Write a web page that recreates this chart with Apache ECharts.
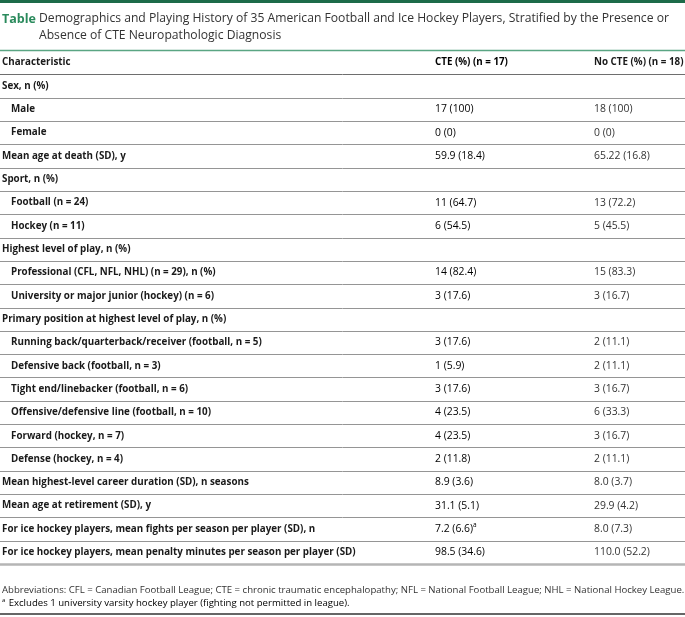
<!DOCTYPE html>
<html><head><meta charset="utf-8">
<script src="https://cdn.jsdelivr.net/npm/echarts@6/dist/echarts.min.js"></script>
<style>html,body{margin:0;padding:0;background:#fff}#c{width:685px;height:617px}</style>
</head><body><div id="c"></div>
<script>
const titleLabel = "Table";
const titleLines = ["Demographics and Playing History of 35 American Football and Ice Hockey Players, Stratified by the Presence or", "Absence of CTE Neuropathologic Diagnosis"];
const rows = ["Characteristic","Sex, n (%)","Male","Female","Mean age at death (SD), y","Sport, n (%)","Football (n = 24)","Hockey (n = 11)","Highest level of play, n (%)","Professional (CFL, NFL, NHL) (n = 29), n (%)","University or major junior (hockey) (n = 6)","Primary position at highest level of play, n (%)","Running back/quarterback/receiver (football, n = 5)","Defensive back (football, n = 3)","Tight end/linebacker (football, n = 6)","Offensive/defensive line (football, n = 10)","Forward (hockey, n = 7)","Defense (hockey, n = 4)","Mean highest-level career duration (SD), n seasons","Mean age at retirement (SD), y","For ice hockey players, mean fights per season per player (SD), n","For ice hockey players, mean penalty minutes per season per player (SD)"];
const indent = [0,0,1,1,0,0,1,1,0,1,1,0,1,1,1,1,1,1,0,0,0,0];
const cte = ["CTE (%) (n = 17)","","17 (100)","0 (0)","59.9 (18.4)","","11 (64.7)","6 (54.5)","","14 (82.4)","3 (17.6)","","3 (17.6)","1 (5.9)","3 (17.6)","4 (23.5)","4 (23.5)","2 (11.8)","8.9 (3.6)","31.1 (5.1)","7.2 (6.6)","98.5 (34.6)"];
const cteMark = ["","","","","","","","","","","","","","","","","","","","","a",""];
const noCte = ["No CTE (%) (n = 18)","","18 (100)","0 (0)","65.22 (16.8)","","13 (72.2)","5 (45.5)","","15 (83.3)","3 (16.7)","","2 (11.1)","2 (11.1)","3 (16.7)","6 (33.3)","3 (16.7)","2 (11.1)","8.0 (3.7)","29.9 (4.2)","8.0 (7.3)","110.0 (52.2)"];
const footnotes = ["Abbreviations: CFL = Canadian Football League; CTE = chronic traumatic encephalopathy; NFL = National Football League; NHL = National Hockey League.", "Excludes 1 university varsity hockey player (fighting not permitted in league)."];
const footMark = "a";

const FONT = '"Open Sans", sans-serif';
const chart = echarts.init(document.getElementById('c'), null, {renderer:'canvas'});
const colX = [2, 435, 594];

function renderItem(params, api) {
  const i = api.value(0);
  const c = api.coord([0, i]);
  const h = api.size([0, 1])[1];
  const cy = c[1];
  const bottom = Math.round(cy + h / 2);
  const isHeader = i === 0;
  const last = i === rows.length - 1;
  const children = [];
  children.push({type:'text', style:{x: colX[0] + (indent[i] ? 9 : 0), y: cy, text: rows[i], fill:'#1a1a1a', font:'bold 9.8px ' + FONT, textVerticalAlign:'middle'}});
  const cteText = cteMark[i] ? '{v|' + cte[i] + '}{s|' + cteMark[i] + '}' : '{v|' + cte[i] + '}';
  const valFont = isHeader ? 'bold' : 'normal';
  const valSize = isHeader ? 9.8 : 10.4;
  children.push({type:'text', style:{x: colX[1], y: cy, text: cteText, textVerticalAlign:'middle',
    rich:{v:{fontFamily:FONT, fontSize:valSize, fontWeight:valFont, color: isHeader ? '#1a1a1a' : '#333'}, s:{fontFamily:FONT, fontSize:6.5, color:'#333', verticalAlign:'top', padding:[0,0,7,0]}}}});
  children.push({type:'text', style:{x: colX[2], y: cy, text: noCte[i], fill: isHeader ? '#1a1a1a' : '#333', font: valFont + ' ' + valSize + 'px ' + FONT, textVerticalAlign:'middle'}});
  children.push({type:'line', shape:{x1:0, y1: bottom + 0.5, x2:685, y2: bottom + 0.5},
    style:{stroke: isHeader ? '#6e6e6e' : (last ? '#b5b5b5' : '#959595'), lineWidth: last ? 2.5 : 1}});
  return {type:'group', children};
}

chart.setOption({
  animation:false,
  grid:{left:0, right:0, top:51, height:513},
  xAxis:{type:'value', min:0, max:685, show:false},
  yAxis:{type:'category', data:rows, inverse:true, show:false},
  series:[{type:'custom', renderItem, data: rows.map((r,i)=>[i]), clip:false, silent:true}],
  graphic:[
    {type:'rect', shape:{x:0, y:0, width:685, height:3}, style:{fill:'#1d6b49'}},
    {type:'text', style:{x:2, y:19, text:titleLabel, fill:'#2a8a5c', font:'bold 12.5px ' + FONT, textVerticalAlign:'middle'}},
    {type:'text', style:{x:39, y:19, text:titleLines[0], fill:'#333', font:'12.15px ' + FONT, textVerticalAlign:'middle'}},
    {type:'text', style:{x:39, y:36, text:titleLines[1], fill:'#333', font:'12.15px ' + FONT, textVerticalAlign:'middle'}},
    {type:'line', shape:{x1:0, y1:50.5, x2:685, y2:50.5}, style:{stroke:'#5aa583', lineWidth:1.5}},
    {type:'text', style:{x:2, y:590, text:footnotes[0], fill:'#333', font:'9.6px ' + FONT, textVerticalAlign:'middle'}},
    {type:'text', style:{x:2, y:603, text:'{s|' + footMark + '} {v|' + footnotes[1] + '}', textVerticalAlign:'middle',
      rich:{v:{fontFamily:FONT, fontSize:9.6, color:'#333'}, s:{fontFamily:FONT, fontSize:6, color:'#333', verticalAlign:'top', padding:[0,0,6,0]}}}},
    {type:'line', shape:{x1:0, y1:614, x2:685, y2:614}, style:{stroke:'#333', lineWidth:1.5}}
  ]
});
</script></body></html>
